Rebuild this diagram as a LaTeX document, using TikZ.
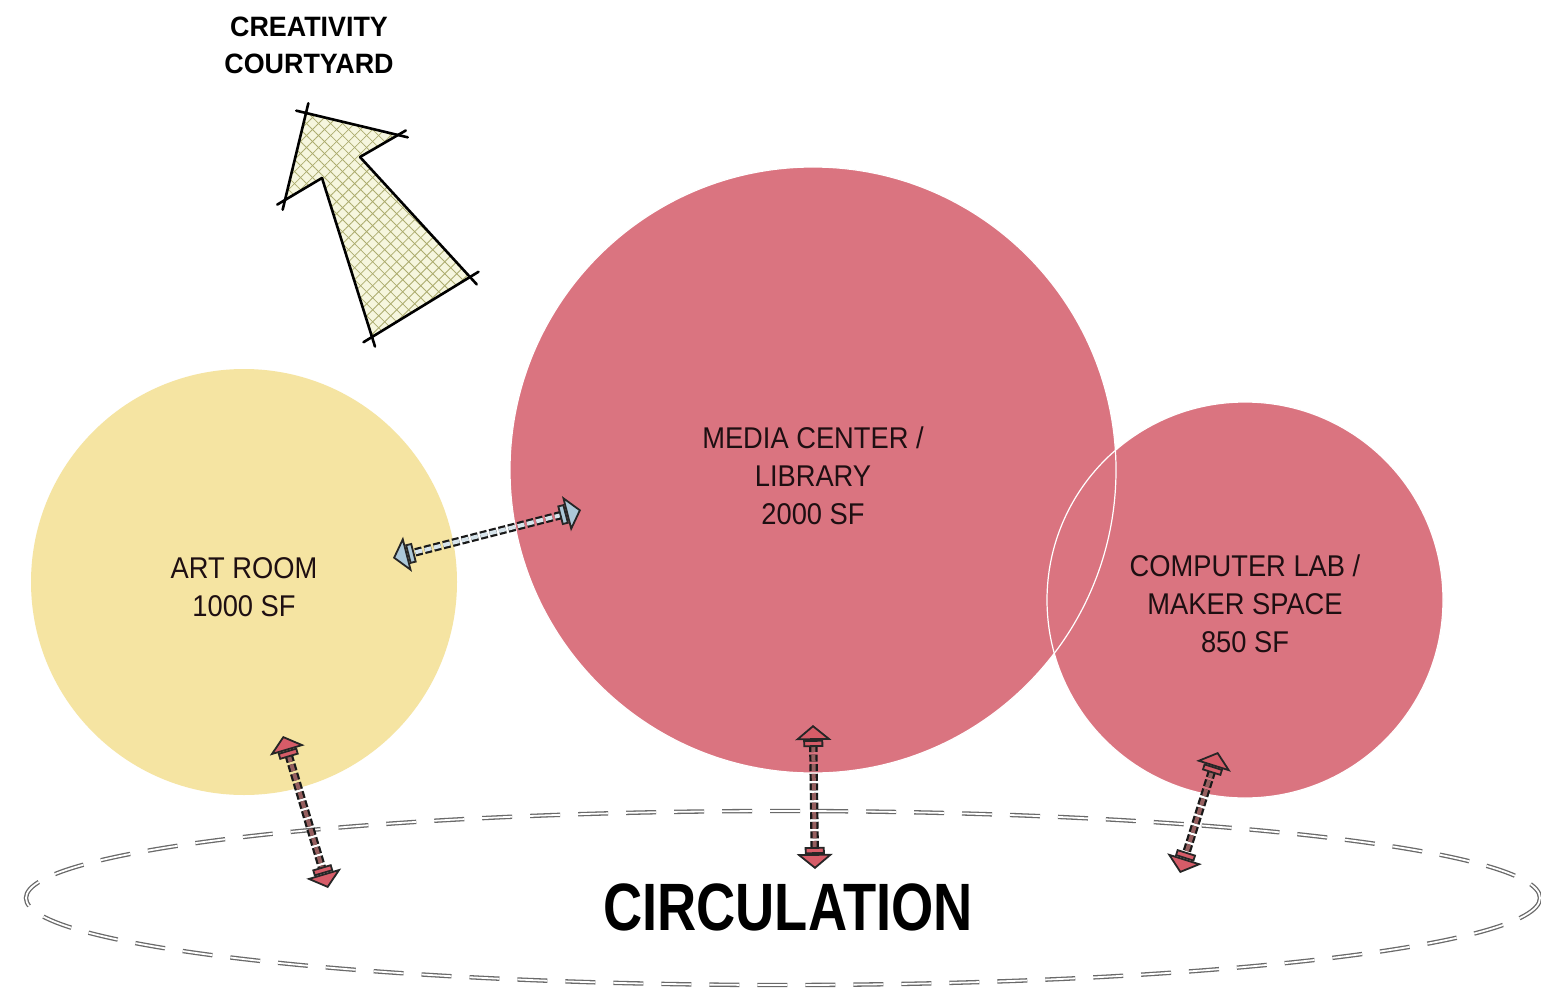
\documentclass[tikz,border=0pt]{standalone}
\usepackage{fontspec}
\setmainfont{Liberation Sans}
\newfontfamily\condfont{Liberation Sans}[FakeStretch=0.81]
\newfontfamily\labfont{Liberation Sans}[FakeStretch=0.91]
\newfontfamily\boldlabfont{Liberation Sans}[FakeStretch=0.96]
\usetikzlibrary{arrows.meta,patterns.meta,calc}
\definecolor{artyellow}{RGB}{245,228,162}
\definecolor{roompink}{RGB}{218,116,128}
\definecolor{headred}{RGB}{214,92,104}
\definecolor{shaftred}{RGB}{150,95,95}
\definecolor{headblue}{RGB}{172,200,216}
\definecolor{shaftblue}{RGB}{215,228,235}
\definecolor{hatchbg}{RGB}{246,246,222}
\definecolor{hatchline}{RGB}{172,172,110}
\definecolor{dashgray}{RGB}{105,105,105}
\definecolor{textdark}{RGB}{30,15,18}
\tikzset{
  roomlabel/.style={inner sep=0pt, align=center, text=textdark,
    font=\labfont\fontsize{30}{38}\selectfont},
  boldlabel/.style={inner sep=0pt, align=center, text=black,
    font=\boldlabfont\bfseries\fontsize{28}{37}\selectfont},
  tipsline/.style={line width=1.8pt, draw=black!85, dash pattern=on 0pt off 5000pt,
    {Triangle[width=36pt,length=15pt,fill=#1]Rectangle[width=20pt,length=7pt,fill=#1]}-{Rectangle[width=20pt,length=7pt,fill=#1]Triangle[width=36pt,length=15pt,fill=#1]}},
  shaftline/.style={draw=black!90, line width=2.2pt, double=#1, double distance=4pt,
    dash pattern=on 7pt off 2.6pt, shorten <=20pt, shorten >=20pt},
  sketch/.style={line width=2.6pt, draw=black, line cap=round, line join=round},
  circdash/.style={draw=dashgray, line width=1.3pt, double=white, double distance=1.8pt,
    dash pattern=on 30pt off 18pt}
}
\begin{document}
\begin{tikzpicture}[x=1pt,y=-1pt]
\useasboundingbox[fill=white] (0,0) rectangle (1541,995);

% rooms
\fill[artyellow] (244,582) circle (213);
\fill[roompink] (813,470) circle (303);
\fill[roompink] (1245,600) circle (198);
\draw[white, line width=1.2pt] (813,470) circle (303);
\draw[white, line width=1.2pt] (1245,600) circle (198);

% circulation ellipse
\draw[circdash] (783,898) ellipse [x radius=757, y radius=87];

% labels
\node[roomlabel] (artlbl) at (244,587) {ART ROOM\\1000 SF};
\node[roomlabel] (medialbl) at (813,476) {MEDIA CENTER /\\LIBRARY\\2000 SF};
\node[roomlabel] (complbl) at (1245,604) {COMPUTER LAB /\\MAKER SPACE\\850 SF};
\node[boldlabel] (courtlbl) at (309,45) {CREATIVITY\\COURTYARD};
\node[inner sep=0pt, font=\condfont\bfseries\fontsize{67}{67}\selectfont] (circlbl) at (788,907) {CIRCULATION};

% hatched arrow to courtyard
\coordinate (T) at (306,113);
\coordinate (RB) at (398,135);
\coordinate (RN) at (360,157);
\coordinate (RT) at (470,277);
\coordinate (LT) at (372,337);
\coordinate (LN) at (322,178);
\coordinate (LB) at (285,200);
\fill[hatchbg] (T) -- (RB) -- (RN) -- (RT) -- (LT) -- (LN) -- (LB) -- cycle;
\fill[pattern={Lines[angle=45,distance=8.5pt,line width=0.8pt]}, pattern color=hatchline]
  (T) -- (RB) -- (RN) -- (RT) -- (LT) -- (LN) -- (LB) -- cycle;
\fill[pattern={Lines[angle=-45,distance=8.5pt,line width=0.8pt]}, pattern color=hatchline]
  (T) -- (RB) -- (RN) -- (RT) -- (LT) -- (LN) -- (LB) -- cycle;
\draw[sketch] ($(T)!-10pt!(RB)$) -- ($(RB)!-10pt!(T)$);
\draw[sketch] ($(RB)!-9pt!(RN)$) -- (RN);
\draw[sketch] (RN) -- ($(RT)!-10pt!(RN)$);
\draw[sketch] ($(RT)!-10pt!(LT)$) -- ($(LT)!-10pt!(RT)$);
\draw[sketch] ($(LT)!-10pt!(LN)$) -- (LN);
\draw[sketch] (LN) -- ($(LB)!-9pt!(LN)$);
\draw[sketch] ($(LB)!-10pt!(T)$) -- ($(T)!-10pt!(LB)$);

% relation arrows
\coordinate (a1) at (283,736);
\coordinate (a2) at (328,888);
\coordinate (m1) at (813,725);
\coordinate (m2) at (815,869);
\coordinate (c1) at (1218,752);
\coordinate (c2) at (1180,873);
\coordinate (h1) at (581,510);
\coordinate (h2) at (393,558);

\draw[shaftline=shaftred] (a1) -- (a2);
\draw[tipsline=headred] (a1) -- (a2);
\draw[shaftline=shaftred] (m1) -- (m2);
\draw[tipsline=headred] (m1) -- (m2);
\draw[shaftline=shaftred] (c1) -- (c2);
\draw[tipsline=headred] (c1) -- (c2);
\draw[shaftline=shaftblue] (h1) -- (h2);
\draw[tipsline=headblue] (h1) -- (h2);
\end{tikzpicture}
\end{document}
